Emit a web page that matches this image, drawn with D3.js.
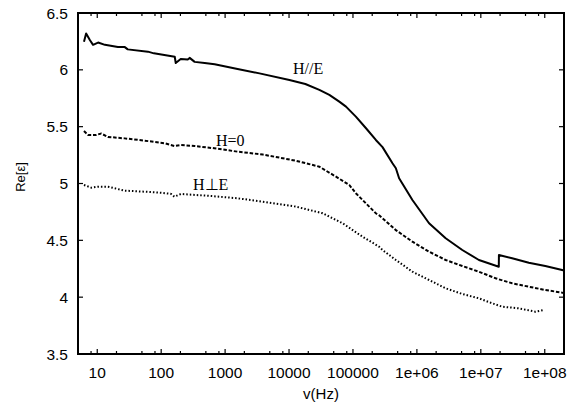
<!DOCTYPE html>
<html>
<head>
<script src="https://d3js.org/d3.v7.min.js"></script>
<style>
  body { margin: 0; background: #fff; }
</style>
</head>
<body>
<div id="chart"></div>
<script>
// Re[eps] vs frequency (Hz)
const parallelData = [
  [6.2, 6.247], [6.7, 6.32], [7.7, 6.26], [8.6, 6.22], [10.3, 6.24], [13.2, 6.22],
  [21, 6.20], [27, 6.20], [30, 6.18], [62, 6.16], [77, 6.145], [163, 6.115],
  [169, 6.06], [202, 6.095], [260, 6.09], [279, 6.105], [334, 6.07], [479, 6.06],
  [686, 6.05], [1567, 6.007], [3450, 5.969], [10140, 5.91], [18000, 5.875],
  [29800, 5.823], [42700, 5.779], [61100, 5.72], [77800, 5.676], [111000, 5.588],
  [160000, 5.486], [228000, 5.383], [290000, 5.32], [415000, 5.178],
  [469000, 5.134], [497000, 5.09], [527000, 5.046], [851000, 4.855], [1.55e6, 4.65],
  [2.82e6, 4.518], [5.13e6, 4.415], [9.34e6, 4.327], [1.91e7, 4.268], [1.92e7, 4.371],
  [3.09e7, 4.342], [5.63e7, 4.303], [1.02e8, 4.274], [1.87e8, 4.239], [2e8, 4.235]
];
const zeroData = [
  [6.2, 5.462], [7.2, 5.427], [9.7, 5.427], [11.5, 5.44], [14.7, 5.41], [26.8, 5.397],
  [55, 5.377], [113, 5.354], [161, 5.33], [204, 5.339], [331, 5.33], [679, 5.31],
  [1567, 5.28], [3890, 5.255], [12900, 5.20], [29800, 5.148], [54300, 5.06],
  [87500, 4.987], [111000, 4.914], [228000, 4.738], [257000, 4.72], [469000, 4.59],
  [851000, 4.488], [1.55e6, 4.40], [2.82e6, 4.327], [5.13e6, 4.274], [9.34e6, 4.224],
  [1.70e7, 4.166], [3.09e7, 4.122], [5.63e7, 4.092], [1.02e8, 4.063], [1.87e8, 4.04],
  [2e8, 4.035]
];
const perpData = [
  [6.2, 4.987], [8.1, 4.963], [10.3, 4.972], [14.7, 4.972], [26.8, 4.937], [55, 4.928],
  [99.7, 4.919], [143, 4.908], [161, 4.884], [204, 4.908], [600, 4.89], [1567, 4.87],
  [3890, 4.84], [12900, 4.796], [33600, 4.738], [68900, 4.65], [141000, 4.532],
  [257000, 4.444], [290000, 4.415], [469000, 4.327], [851000, 4.224], [1.55e6, 4.151],
  [2.82e6, 4.078], [5.13e6, 4.028], [9.34e6, 3.99], [1.51e7, 3.946], [2.16e7, 3.916],
  [3.93e7, 3.902], [7.16e7, 3.872], [9.64e7, 3.887]
];

const xTicks = [10, 100, 1000, 10000, 100000, 1e6, 1e7, 1e8];
const xTickLabels = ['10', '100', '1000', '10000', '100000', '1e+06', '1e+07', '1e+08'];
const xMinorSteps = [2, 5, 8];
const yTicks = [3.5, 4, 4.5, 5, 5.5, 6, 6.5];
const yTickLabels = ['3.5', '4', '4.5', '5', '5.5', '6', '6.5'];

const width = 581, height = 409;
const plotLeft = 78, plotRight = 564, plotTop = 13, plotBottom = 354;

const svg = d3.select('#chart').append('svg')
  .attr('width', width)
  .attr('height', height);

const xScale = d3.scaleLog().domain([5, 2e8]).range([plotLeft, plotRight]);
const yScale = d3.scaleLinear().domain([3.5, 6.5]).range([plotBottom, plotTop]);

svg.append('clipPath').attr('id', 'clip')
  .append('rect')
  .attr('x', plotLeft).attr('y', plotTop)
  .attr('width', plotRight - plotLeft).attr('height', plotBottom - plotTop);

// ticks (gnuplot style: inward, mirrored)
const tickG = svg.append('g').attr('stroke', '#000').attr('stroke-width', 1.2);
xTicks.forEach((t) => {
  const x = xScale(t);
  tickG.append('line').attr('x1', x).attr('x2', x).attr('y1', plotBottom).attr('y2', plotBottom - 5);
  tickG.append('line').attr('x1', x).attr('x2', x).attr('y1', plotTop).attr('y2', plotTop + 5);
});
const minorTicks = [];
for (let d = 1; d <= 1e8; d *= 10) {
  xMinorSteps.forEach((m) => {
    const v = d * m;
    if (v > 5 && v < 2e8) minorTicks.push(v);
  });
}
minorTicks.forEach((t) => {
  const x = xScale(t);
  tickG.append('line').attr('x1', x).attr('x2', x).attr('y1', plotBottom).attr('y2', plotBottom - 3);
  tickG.append('line').attr('x1', x).attr('x2', x).attr('y1', plotTop).attr('y2', plotTop + 3);
});
yTicks.forEach((t) => {
  const y = yScale(t);
  tickG.append('line').attr('x1', plotLeft).attr('x2', plotLeft + 5).attr('y1', y).attr('y2', y);
  tickG.append('line').attr('x1', plotRight).attr('x2', plotRight - 5).attr('y1', y).attr('y2', y);
});

// tick labels
const labelFont = 'Liberation Sans, Arial, Helvetica, sans-serif';
xTicks.forEach((t, i) => {
  svg.append('text')
    .attr('x', xScale(t))
    .attr('y', 378)
    .attr('text-anchor', 'middle')
    .attr('font-family', labelFont)
    .attr('font-size', 15.5)
    .text(xTickLabels[i]);
});
yTicks.forEach((t, i) => {
  svg.append('text')
    .attr('x', 68)
    .attr('y', yScale(t))
    .attr('dy', '0.36em')
    .attr('text-anchor', 'end')
    .attr('font-family', labelFont)
    .attr('font-size', 15.5)
    .text(yTickLabels[i]);
});

// axis titles
svg.append('text')
  .attr('x', 321)
  .attr('y', 399)
  .attr('text-anchor', 'middle')
  .attr('font-family', labelFont)
  .attr('font-size', 15)
  .text('v(Hz)');
svg.append('text')
  .attr('transform', 'translate(25,177) rotate(-90)')
  .attr('text-anchor', 'middle')
  .attr('font-family', labelFont)
  .attr('font-size', 13)
  .text('Re[ε]');

// curves
const line = d3.line()
  .x((d) => xScale(d[0]))
  .y((d) => yScale(d[1]));

const plot = svg.append('g').attr('clip-path', 'url(#clip)');
plot.append('path')
  .datum(parallelData)
  .attr('d', line)
  .attr('fill', 'none')
  .attr('stroke', '#000')
  .attr('stroke-width', 2)
  .attr('stroke-linejoin', 'round');
plot.append('path')
  .datum(zeroData)
  .attr('d', line)
  .attr('fill', 'none')
  .attr('stroke', '#000')
  .attr('stroke-width', 2)
  .attr('stroke-dasharray', '3.5,1.8');
plot.append('path')
  .datum(perpData)
  .attr('d', line)
  .attr('fill', 'none')
  .attr('stroke', '#000')
  .attr('stroke-width', 2)
  .attr('stroke-dasharray', '1.5,2');

// curve labels
const serif = 'Liberation Serif, Times New Roman, serif';
svg.append('text').attr('x', 293).attr('y', 74)
  .attr('font-family', serif).attr('font-size', 16).text('H//E');
svg.append('text').attr('x', 216).attr('y', 146)
  .attr('font-family', serif).attr('font-size', 16).text('H=0');
svg.append('text').attr('x', 193).attr('y', 190)
  .attr('font-family', serif).attr('font-size', 16).text('H⊥E');

// border
svg.append('rect')
  .attr('x', plotLeft).attr('y', plotTop)
  .attr('width', plotRight - plotLeft).attr('height', plotBottom - plotTop)
  .attr('fill', 'none')
  .attr('stroke', '#000')
  .attr('stroke-width', 2);
</script>
</body>
</html>
